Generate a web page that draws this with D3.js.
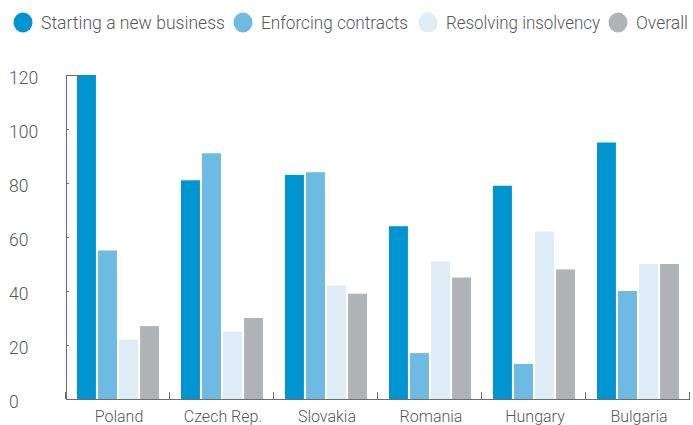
<!DOCTYPE html>
<html>
<head>
<meta charset="utf-8">
<script src="https://cdn.jsdelivr.net/npm/d3@7"></script>
<style>
  html, body { margin: 0; padding: 0; background: #fff; }
  svg { display: block; }
  text { font-family: Roboto, "Liberation Sans", sans-serif; font-weight: 300; fill: #55585c; }
</style>
</head>
<body>
<svg id="chart" width="693" height="425"></svg>
<script>
// Countries along the x axis
const countries = ["Poland", "Czech Rep.", "Slovakia", "Romania", "Hungary", "Bulgaria"];

// Series names and colours
const seriesNames = ["Starting a new business", "Enforcing contracts", "Resolving insolvency", "Overall"];
const seriesColors = ["#0094d1", "#6dbbe3", "#deecf7", "#b1b4b7"];

// Values per series, one per country
const startingBusiness = [120, 81, 83, 64, 79, 95];
const enforcingContracts = [55, 91, 84, 17, 13, 40];
const resolvingInsolvency = [22, 25, 42, 51, 62, 50];
const overall = [27, 30, 39, 45, 48, 50];

// Y axis ticks
const yTicks = [0, 20, 40, 60, 80, 100, 120];

const series = [startingBusiness, enforcingContracts, resolvingInsolvency, overall];

const svg = d3.select("#chart");
const axisColor = "#6a6d70";

const x0 = d3.scaleBand().domain(countries).range([66, 690]).paddingInner(0).paddingOuter(0);
const x1 = d3.scaleBand().domain(d3.range(seriesNames.length))
  .range([11, x0.bandwidth() - 11]).paddingInner(0.1).paddingOuter(0);
const y = d3.scaleLinear().domain([0, 120]).range([399, 75]);

// Bars
const groups = svg.append("g").selectAll("g")
  .data(countries)
  .join("g")
  .attr("transform", d => `translate(${x0(d)},0)`);

groups.selectAll("rect")
  .data((d, i) => series.map((s, k) => ({ k, v: s[i] })))
  .join("rect")
  .attr("x", d => x1(d.k))
  .attr("width", x1.bandwidth())
  .attr("y", d => y(d.v))
  .attr("height", d => y(0) - y(d.v))
  .attr("fill", d => seriesColors[d.k]);

// Y axis
const yAxis = svg.append("g");
yAxis.append("line")
  .attr("x1", 66.5).attr("x2", 66.5)
  .attr("y1", y(120)).attr("y2", y(0))
  .attr("stroke", axisColor).attr("stroke-width", 1);
yAxis.selectAll("line.tick")
  .data(yTicks)
  .join("line")
  .attr("class", "tick")
  .attr("x1", 66)
  .attr("x2", d => d === 120 ? 81 : 69)
  .attr("y1", d => Math.round(y(d)) + 0.5)
  .attr("y2", d => Math.round(y(d)) + 0.5)
  .attr("stroke", axisColor).attr("stroke-width", 1);
yAxis.selectAll("text")
  .data(yTicks)
  .join("text")
  .attr("x", 9)
  .attr("y", d => y(d) + 3)
  .attr("dy", "0.35em")
  .attr("font-size", 17.5)
  .text(d => d);

// X axis
const xAxis = svg.append("g");
xAxis.append("line")
  .attr("x1", 66).attr("x2", 690)
  .attr("y1", 399.5).attr("y2", 399.5)
  .attr("stroke", axisColor).attr("stroke-width", 1);
const boundaries = countries.map(c => x0(c) + x0.bandwidth()).concat([x0(countries[0])]);
xAxis.selectAll("line.tick")
  .data(boundaries)
  .join("line")
  .attr("class", "tick")
  .attr("x1", d => Math.round(d) - 0.5).attr("x2", d => Math.round(d) - 0.5)
  .attr("y1", 392).attr("y2", 399)
  .attr("stroke", axisColor).attr("stroke-width", 1);
xAxis.selectAll("text")
  .data(countries)
  .join("text")
  .attr("x", d => x0(d) + x0.bandwidth() / 2 + 1)
  .attr("y", 416)
  .attr("dy", "0.35em")
  .attr("text-anchor", "middle")
  .attr("font-size", 16)
  .text(d => d);

// Legend: marker position and label width per entry
const legendX = [13, 233, 418, 608];
const legendW = [184, 147, 154, 52];
const legend = svg.append("g");
seriesNames.forEach((name, k) => {
  const lx = legendX[k];
  legend.append("ellipse")
    .attr("cx", lx + 10).attr("cy", 22.5)
    .attr("rx", 9.5).attr("ry", 10)
    .attr("fill", seriesColors[k]);
  legend.append("text")
    .attr("x", lx + 28).attr("y", 22.5)
    .attr("dy", "0.35em")
    .attr("font-size", 18.5)
    .attr("textLength", legendW[k])
    .attr("lengthAdjust", "spacingAndGlyphs")
    .text(name);
});
</script>
</body>
</html>
